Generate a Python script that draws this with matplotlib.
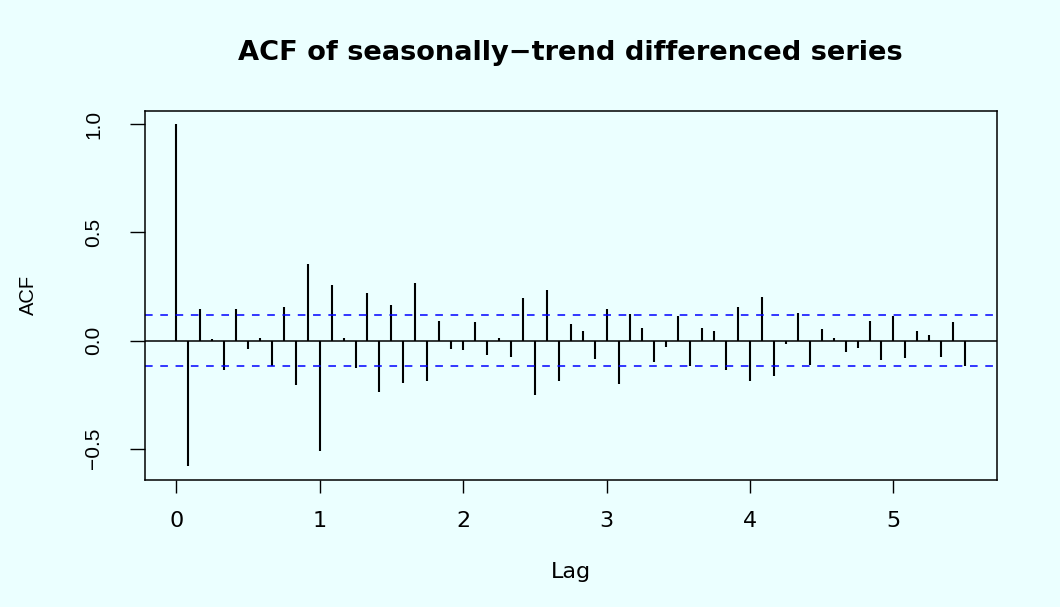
import matplotlib.pyplot as plt
import numpy as np

# ------ Data ------
lag_step = 1 / 12
acf_values = [
    1.000, -0.582, 0.146, 0.009, -0.134, 0.146, -0.037, 0.011, -0.118, 0.155,
    -0.204, 0.355, -0.510, 0.258, 0.012, -0.127, 0.220, -0.238, 0.163, -0.198,
    0.267, -0.187, 0.092, -0.037, -0.045, 0.088, -0.066, 0.012, -0.074, 0.197,
    -0.253, 0.235, -0.189, 0.077, 0.043, -0.084, 0.146, -0.201, 0.123, 0.060,
    -0.098, -0.028, 0.114, -0.117, 0.058, 0.046, -0.138, 0.155, -0.189, 0.201,
    -0.166, -0.017, 0.129, -0.111, 0.055, 0.014, -0.052, -0.034, 0.092, -0.088,
    0.114, -0.081, 0.045, 0.026, -0.077, 0.088, -0.117,
]
ci = 0.117
x_ticks = [0, 1, 2, 3, 4, 5]
y_ticks = [-0.5, 0.0, 0.5, 1.0]
y_tick_labels = ['\u22120.5', '0.0', '0.5', '1.0']

lags = np.arange(len(acf_values)) * lag_step

# ------ Style ------
bg = '#EBFFFF'
plt.rcParams['font.family'] = ['DejaVu Sans']
narrow = ['Liberation Sans', 'DejaVu Sans']  # rotated text is not stretched in the original

# ------ Figure ------
fig = plt.figure(figsize=(10.6, 6.07), dpi=100, facecolor=bg)
ax = fig.add_axes([0.1365, 0.2092, 0.8038, 0.6084])
ax.set_facecolor(bg)

ax.vlines(lags, 0, acf_values, color='black', lw=1.5)
ax.axhline(0, color='black', lw=1.1)
ax.axhline(ci, color='#0000FF', lw=1.1, ls=(0, (5, 5)))
ax.axhline(-ci, color='#0000FF', lw=1.1, ls=(0, (5, 5)))

ax.set_xlim(-0.22, 5.72)
ax.set_ylim(-0.645, 1.063)

ax.set_xticks(x_ticks)
ax.set_yticks(y_ticks)
ax.set_yticklabels(y_tick_labels, rotation=90, va='center', family=narrow, fontsize=15)
ax.tick_params(axis='x', direction='out', length=9.5, width=1, pad=13, labelsize=16)
ax.tick_params(axis='y', direction='out', length=11, width=1, pad=19)
for s in ax.spines.values():
    s.set_linewidth(1.1)

ax.set_xlabel('Lag', fontsize=16)
ax.xaxis.set_label_coords(0.5, -0.249)
ax.xaxis.label.set_va('center')
ax.set_ylabel('ACF', fontsize=14.5, family=narrow)
ax.yaxis.set_label_coords(-0.137, 0.5)
ax.yaxis.label.set_va('center')

fig.text(0.5384, 1 - 60 / 607, 'ACF of seasonally\u2212trend differenced series',
         ha='center', va='baseline', fontsize=19.6, fontweight='bold')

fig.savefig('out.png', dpi=100, facecolor=bg)
